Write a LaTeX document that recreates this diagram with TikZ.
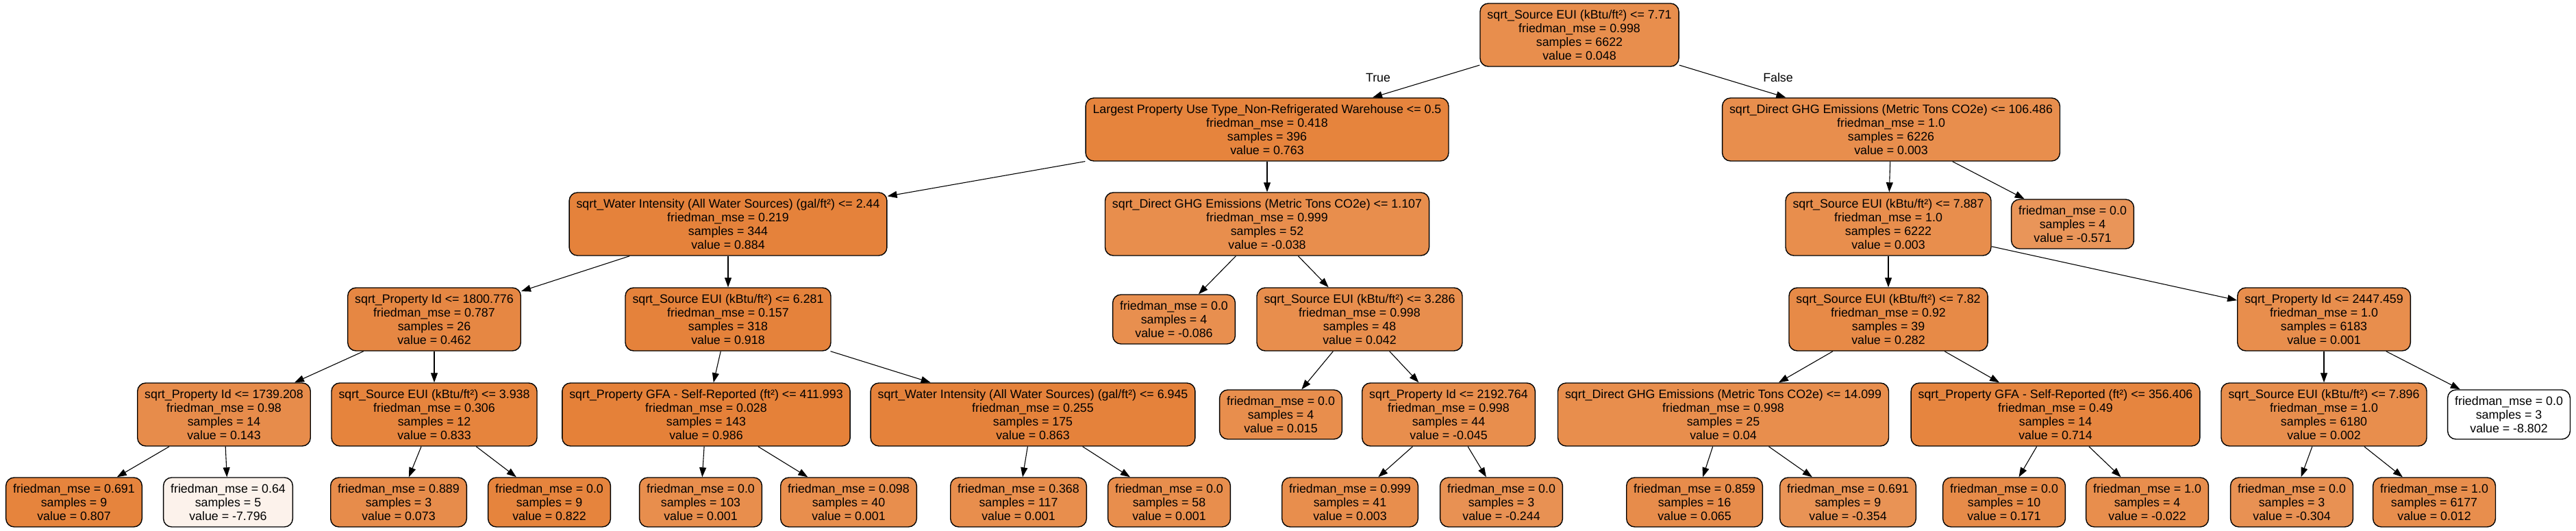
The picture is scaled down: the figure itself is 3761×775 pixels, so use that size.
\documentclass[tikz,border=0pt]{standalone}
\usepackage{fontspec}
\setmainfont{Liberation Sans}
\usetikzlibrary{arrows.meta}
\definecolor{dtorange}{RGB}{229,129,57}
\newcommand{\dtinfo}[3]{friedman\_mse = #1\\samples = #2\\value = #3}

\begin{document}
\begin{tikzpicture}[x=1pt,y=-1pt,
  dtbox/.style={draw,rounded corners=12pt,line width=1.4pt,fill=dtorange!#1,align=center,
    inner xsep=10.5pt,inner ysep=0pt,font=\fontsize{17.8}{20}\selectfont},
  splitbox/.style={dtbox=#1,minimum height=92pt},
  leafbox/.style={dtbox=#1,minimum height=72pt},
  dtedge/.style={-{Triangle[length=14pt,width=10pt]},line width=1.1pt},
  lbl/.style={font=\fontsize{17.8}{20}\selectfont}]

\useasboundingbox (0,0) rectangle (3761,775);

\node[splitbox=90] (n0) at (2306,51) {sqrt\_Source EUI (kBtu/ft²) <= 7.71\\\dtinfo{0.998}{6622}{0.048}};

\node[splitbox=98] (n1) at (1850,189) {Largest Property Use Type\_Non-Refrigerated Warehouse <= 0.5\\\dtinfo{0.418}{396}{0.763}};
\node[splitbox=90] (n24) at (2761,189) {sqrt\_Direct GHG Emissions (Metric Tons CO2e) <= 106.486\\\dtinfo{1.0}{6226}{0.003}};

\node[splitbox=99] (n2) at (1063,327) {sqrt\_Water Intensity (All Water Sources) (gal/ft²) <= 2.44\\\dtinfo{0.219}{344}{0.884}};
\node[splitbox=90] (n17) at (1850,327) {sqrt\_Direct GHG Emissions (Metric Tons CO2e) <= 1.107\\\dtinfo{0.999}{52}{-0.038}};
\node[splitbox=90] (n25) at (2757,327) {sqrt\_Source EUI (kBtu/ft²) <= 7.887\\\dtinfo{1.0}{6222}{0.003}};
\node[leafbox=84] (n38) at (3026,327) {\dtinfo{0.0}{4}{-0.571}};

\node[splitbox=95] (n3) at (634,466) {sqrt\_Property Id <= 1800.776\\\dtinfo{0.787}{26}{0.462}};
\node[splitbox=99] (n10) at (1063,466) {sqrt\_Source EUI (kBtu/ft²) <= 6.281\\\dtinfo{0.157}{318}{0.918}};
\node[leafbox=89] (n18) at (1714,466) {\dtinfo{0.0}{4}{-0.086}};
\node[splitbox=90] (n19) at (1985,466) {sqrt\_Source EUI (kBtu/ft²) <= 3.286\\\dtinfo{0.998}{48}{0.042}};
\node[splitbox=93] (n26) at (2757,466) {sqrt\_Source EUI (kBtu/ft²) <= 7.82\\\dtinfo{0.92}{39}{0.282}};
\node[splitbox=90] (n33) at (3393,466) {sqrt\_Property Id <= 2447.459\\\dtinfo{1.0}{6183}{0.001}};

\node[splitbox=91] (n4) at (327,605) {sqrt\_Property Id <= 1739.208\\\dtinfo{0.98}{14}{0.143}};
\node[splitbox=98] (n7) at (634,605) {sqrt\_Source EUI (kBtu/ft²) <= 3.938\\\dtinfo{0.306}{12}{0.833}};
\node[splitbox=100] (n11) at (1031,605) {sqrt\_Property GFA - Self-Reported (ft²) <= 411.993\\\dtinfo{0.028}{143}{0.986}};
\node[splitbox=99] (n14) at (1508,605) {sqrt\_Water Intensity (All Water Sources) (gal/ft²) <= 6.945\\\dtinfo{0.255}{175}{0.863}};
\node[leafbox=90] (n20) at (1870,605) {\dtinfo{0.0}{4}{0.015}};
\node[splitbox=90] (n21) at (2115,605) {sqrt\_Property Id <= 2192.764\\\dtinfo{0.998}{44}{-0.045}};
\node[splitbox=90] (n27) at (2516,605) {sqrt\_Direct GHG Emissions (Metric Tons CO2e) <= 14.099\\\dtinfo{0.998}{25}{0.04}};
\node[splitbox=97] (n30) at (3001,605) {sqrt\_Property GFA - Self-Reported (ft²) <= 356.406\\\dtinfo{0.49}{14}{0.714}};
\node[splitbox=90] (n34) at (3393,605) {sqrt\_Source EUI (kBtu/ft²) <= 7.896\\\dtinfo{1.0}{6180}{0.002}};
\node[leafbox=0] (n37) at (3663,605) {\dtinfo{0.0}{3}{-8.802}};

\node[leafbox=98] (n5) at (108,733) {\dtinfo{0.691}{9}{0.807}};
\node[leafbox=10] (n6) at (333,733) {\dtinfo{0.64}{5}{-7.796}};
\node[leafbox=91] (n8) at (582,733) {\dtinfo{0.889}{3}{0.073}};
\node[leafbox=98] (n9) at (802,733) {\dtinfo{0.0}{9}{0.822}};
\node[leafbox=90] (n12) at (1023,733) {\dtinfo{0.0}{103}{0.001}};
\node[leafbox=90] (n13) at (1239,733) {\dtinfo{0.098}{40}{0.001}};
\node[leafbox=90] (n15) at (1487,733) {\dtinfo{0.368}{117}{0.001}};
\node[leafbox=90] (n16) at (1707,733) {\dtinfo{0.0}{58}{0.001}};
\node[leafbox=90] (n22) at (1971,733) {\dtinfo{0.999}{41}{0.003}};
\node[leafbox=87] (n23) at (2192,733) {\dtinfo{0.0}{3}{-0.244}};
\node[leafbox=91] (n28) at (2474,733) {\dtinfo{0.859}{16}{0.065}};
\node[leafbox=86] (n29) at (2698,733) {\dtinfo{0.691}{9}{-0.354}};
\node[leafbox=92] (n31) at (2926,733) {\dtinfo{0.0}{10}{0.171}};
\node[leafbox=90] (n32) at (3135,733) {\dtinfo{1.0}{4}{-0.022}};
\node[leafbox=87] (n35) at (3346,733) {\dtinfo{0.0}{3}{-0.304}};
\node[leafbox=90] (n36) at (3554,733) {\dtinfo{1.0}{6177}{0.012}};

\foreach \a/\b in {0/1,0/24,1/2,1/17,2/3,2/10,3/4,3/7,4/5,4/6,7/8,7/9,10/11,10/14,
  11/12,11/13,14/15,14/16,17/18,17/19,19/20,19/21,21/22,21/23,24/25,24/38,25/26,25/33,
  26/27,26/30,27/28,27/29,30/31,30/32,33/34,33/37,34/35,34/36}
  \draw[dtedge] (n\a) -- (n\b);

\node[lbl] (ltrue) at (2012,113) {True};
\node[lbl] (lfalse) at (2596,113) {False};

\end{tikzpicture}
\end{document}
